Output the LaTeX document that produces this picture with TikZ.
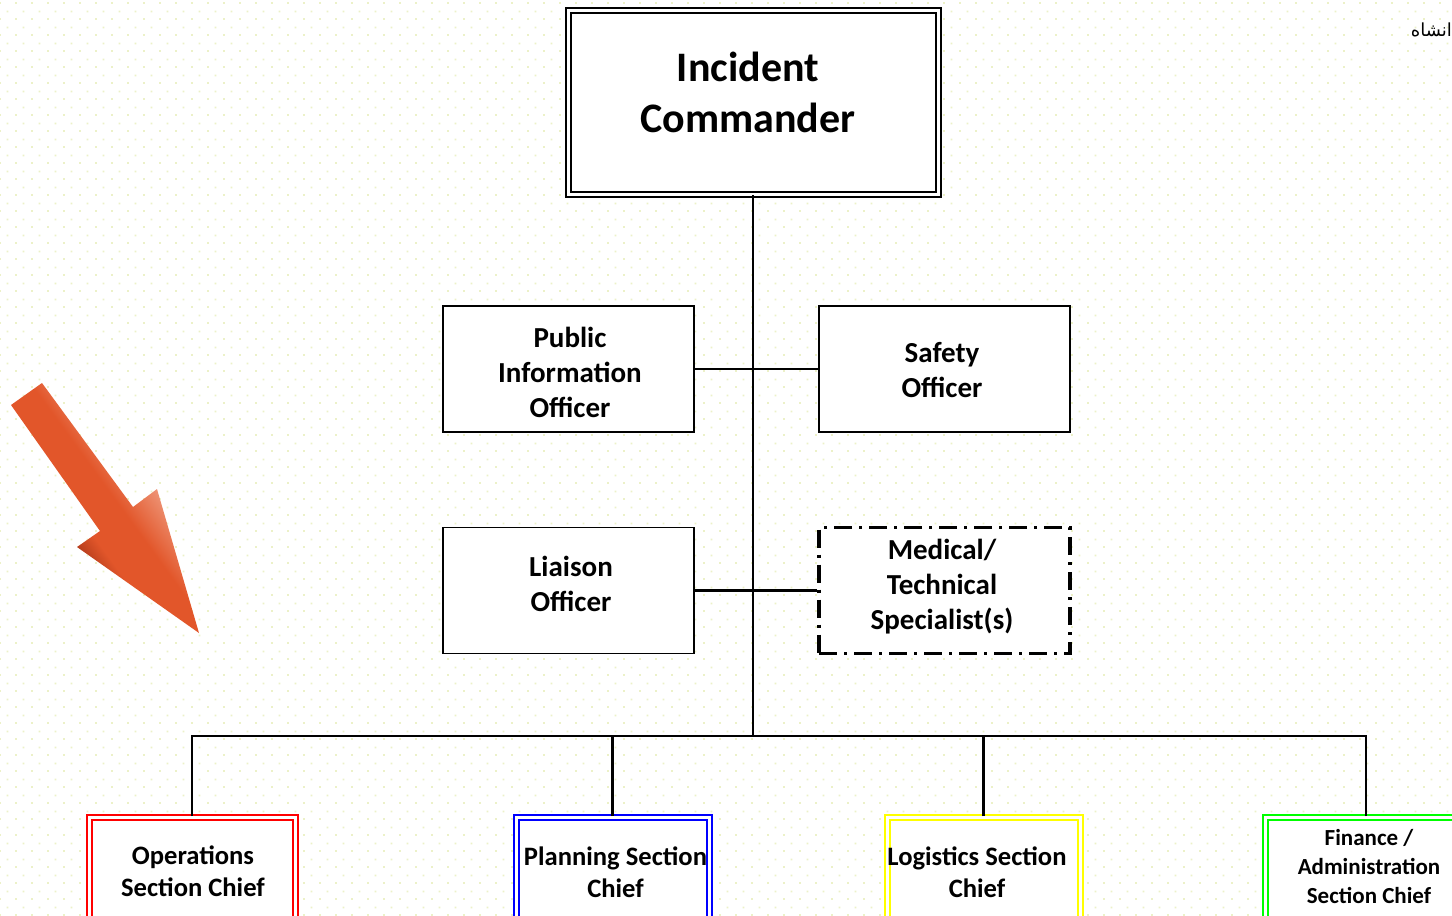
\documentclass[tikz,border=0pt]{standalone}
\usepackage{fontspec}
\setmainfont{Carlito}
\newfontfamily\arabicfont[Script=Arabic]{DejaVu Sans}
\TeXXeTstate=1
\usetikzlibrary{patterns}
\definecolor{dotc}{RGB}{236,241,200}
\definecolor{arrdark}{RGB}{140,38,16}
\definecolor{arrmid}{RGB}{226,86,42}
\definecolor{arrlight}{RGB}{240,158,130}
\definecolor{opsred}{RGB}{255,0,0}
\definecolor{planblue}{RGB}{0,0,255}
\definecolor{logyellow}{RGB}{255,255,0}
\definecolor{fingreen}{RGB}{0,255,0}
\pgfdeclarepatternformonly{bgdots}{\pgfpointorigin}{\pgfqpoint{16pt}{16pt}}{\pgfqpoint{16pt}{16pt}}{%
  \pgfpathrectangle{\pgfqpoint{0pt}{0pt}}{\pgfqpoint{2pt}{2pt}}%
  \pgfpathrectangle{\pgfqpoint{8pt}{8pt}}{\pgfqpoint{2pt}{2pt}}%
  \pgfusepath{fill}}
\pgfdeclareverticalshading{arrowshade}{100bp}{color(0bp)=(arrdark); color(35bp)=(arrdark); color(44bp)=(arrmid); color(53bp)=(arrmid); color(64bp)=(arrlight); color(100bp)=(arrlight)}
\tikzset{
  box/.style={draw, line width=1.9pt, fill=white, minimum width=251pt, minimum height=126pt, inner sep=0pt},
  dashbox/.style={box, line width=3.2pt, dash pattern=on 18pt off 7pt on 3pt off 7pt},
  dbox/.style={draw=#1, double=white, line width=2pt, double distance=3pt, fill=white,
    inner sep=0pt, minimum height=114pt, minimum width=193pt},
  conn/.style={draw, line width=2.3pt},
  lbl/.style={align=center, inner sep=0pt, font=\bfseries\fontsize{29}{35}\selectfont},
  slbl/.style={align=center, inner sep=0pt, font=\bfseries\fontsize{26.6}{32}\selectfont},
}
\begin{document}
\begin{tikzpicture}[x=1pt,y=-1pt]
\useasboundingbox (0,0) rectangle (1452,916);
\fill[white] (0,0) rectangle (1452,916);
\fill[pattern=bgdots, pattern color=dotc] (0,0) rectangle (1452,916);

% corner text
\node[anchor=east, inner sep=0pt, font=\arabicfont\fontsize{18}{21}\selectfont] (corner) at (1452,30) {\beginR انشاه\endR};

% arrow
\shade[shading=arrowshade, shading angle=-54]
  (11,405) -- (42,383) -- (133,507) -- (157,489) -- (199,633) -- (77,547) -- (100,531) -- cycle;

% incident commander
\node[draw, double=white, line width=2pt, double distance=3pt, fill=white,
      minimum width=370pt, minimum height=184pt, inner sep=0pt] (ic) at (753,102) {};
\node[align=center, inner sep=0pt, font=\bfseries\fontsize{42}{51}\selectfont] (iclabel) at (748,92) {Incident\\Commander};

\coordinate (bus) at (753,736);

% staff
\node[box] (pio) at (568.5,369) {};
\node[lbl] (piolabel) at (570,372) {Public\\Information\\Officer};
\node[box] (safety) at (944.5,369) {};
\node[lbl] (safetylabel) at (942,370) {Safety\\Officer};
\node[box] (liaison) at (568.5,590.5) {};
\node[lbl] (liaisonlabel) at (571,583.5) {Liaison\\Officer};
\node[dashbox] (medical) at (944.5,590.5) {};
\node[lbl] (medicallabel) at (942,586.5) {Medical/\\Technical\\Specialist(s)};

% sections
\node[dbox=opsred, minimum width=206pt] (ops) at (192,874) {};
\node[slbl] (opslabel) at (193,871) {Operations\\Section Chief};
\node[dbox=planblue] (plan) at (612.5,874) {};
\node[slbl] (planlabel) at (615.5,872) {Planning Section\\Chief};
\node[dbox=logyellow] (log) at (983.5,874) {};
\node[slbl] (loglabel) at (977,872) {Logistics Section\\Chief};
\node[dbox=fingreen, minimum width=202pt, minimum height=106pt] (fin) at (1366,870) {};
\node[align=center, inner sep=0pt, font=\bfseries\fontsize{23}{29}\selectfont] (finlabel) at (1369,867) {Finance /\\Administration\\Section Chief};

% connectors
\draw[conn] (ic.south) -- (bus);
\draw[conn] (pio.east) -- (safety.west);
\draw[conn] (liaison.east) -- (medical.west);
\draw[conn] (ops.north) |- (bus);
\draw[conn] (fin.north) |- (bus);
\draw[conn] (plan.north) -- (plan.north |- bus);
\draw[conn] (log.north) -- (log.north |- bus);
\end{tikzpicture}
\end{document}
